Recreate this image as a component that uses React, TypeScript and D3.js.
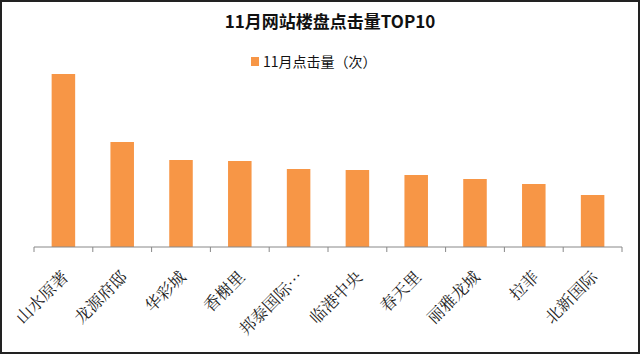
import React from "react";
import * as d3 from "d3";

const categories = ["山水原著", "龙源府邸", "华彩城", "香榭里", "邦泰国际…", "临港中央", "春天里", "丽雅龙城", "拉菲", "北新国际"];
const values = [3460, 2100, 1740, 1720, 1560, 1540, 1440, 1360, 1260, 1040];
const title = "11月网站楼盘点击量TOP10";
const legendLabel = "11月点击量（次）";

const W = 640, H = 355;
const left = 34, right = 622, base = 247, top = 47;

export default function App() {
  const x = d3.scaleBand<string>().domain(categories).range([left, right]).paddingInner(0.6).paddingOuter(0.3);
  const y = d3.scaleLinear().domain([0, 4000]).range([base, top]);
  const ticks = d3.range(categories.length + 1).map(i => left + i * ((right - left) / categories.length));
  return (
    <svg width={W} height={H} style={{ position: "absolute", left: 0, top: 0, background: "#fff" }}>
      <rect x={1} y={1} width={W - 2} height={H - 3} fill="#fff" stroke="#222" strokeWidth={2} />
      <text x={330} y={28} textAnchor="middle" fontFamily="'Noto Sans CJK SC', sans-serif" fontWeight="bold" fontSize={17} fill="#111">{title}</text>
      <rect x={251} y={57} width={8} height={9} fill="#F79646" />
      <text x={263} y={67} fontFamily="'Noto Sans CJK SC', sans-serif" fontSize={14} fill="#111">{legendLabel}</text>
      {categories.map((c, i) => (
        <rect key={c} x={x(c)} y={y(values[i])} width={x.bandwidth()} height={base - y(values[i])} fill="#F79646" />
      ))}
      <line x1={left} x2={right} y1={base} y2={base} stroke="#888" strokeWidth={1} />
      {ticks.map((t, i) => (
        <line key={i} x1={t} x2={t} y1={base} y2={base + 5} stroke="#888" />
      ))}
      {categories.map((c) => {
        const cx = (x(c) as number) + x.bandwidth() / 2 + 6;
        const cy = base + 31;
        return (
          <text key={c} x={cx} y={cy} transform={`rotate(-45 ${cx} ${cy})`} textAnchor="end" fontFamily="'Noto Serif CJK SC', 'Noto Sans CJK SC', serif" fontSize={16.5} fill="#222">{c}</text>
        );
      })}
    </svg>
  );
}
